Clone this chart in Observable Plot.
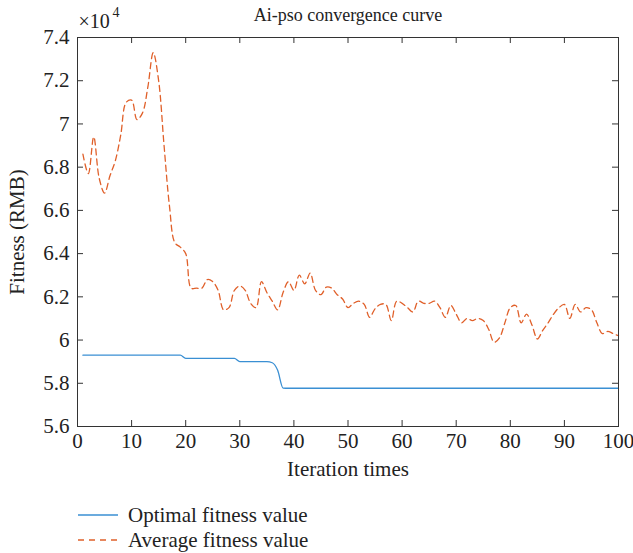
<!DOCTYPE html>
<html>
<head>
<meta charset="utf-8">
<script src="https://cdn.jsdelivr.net/npm/d3@7"></script>
<script src="https://cdn.jsdelivr.net/npm/@observablehq/plot@0.6"></script>
<style>
  body { margin: 0; background: #fff; font-family: "Liberation Serif", "DejaVu Serif", serif; }
  #legend { position: relative; height: 63px; }
  .row { position: absolute; left: 78px; display: flex; align-items: center; font-size: 21px; color: #222; line-height: 24px; }
  .row svg { margin-right: 8px; }
</style>
</head>
<body>
<div id="chart"></div>
<div id="legend"></div>
<script>
const title = "Ai-pso convergence curve";
const xLabel = "Iteration times";
const yLabel = "Fitness (RMB)";
const seriesNames = ["Optimal fitness value", "Average fitness value"];
const xTicks = [0, 10, 20, 30, 40, 50, 60, 70, 80, 90, 100];
const yTicks = [5.6, 5.8, 6.0, 6.2, 6.4, 6.6, 6.8, 7.0, 7.2, 7.4];
const iterations = d3.range(1, 101);
// values in units of 10^4 RMB
const averageFitness = [
  6.86, 6.77, 6.94, 6.75, 6.68, 6.76, 6.83, 6.95, 7.10, 7.11,
  7.02, 7.05, 7.17, 7.33, 7.20, 6.90, 6.62, 6.45, 6.43, 6.40,
  6.24, 6.24, 6.24, 6.28, 6.27, 6.23, 6.14, 6.15, 6.23, 6.25,
  6.23, 6.17, 6.15, 6.27, 6.22, 6.18, 6.14, 6.22, 6.27, 6.23,
  6.30, 6.26, 6.31, 6.23, 6.21, 6.245, 6.24, 6.21, 6.19, 6.15,
  6.17, 6.18, 6.165, 6.105, 6.145, 6.165, 6.165, 6.09, 6.18, 6.17,
  6.15, 6.13, 6.18, 6.17, 6.17, 6.18, 6.15, 6.105, 6.16, 6.12,
  6.08, 6.10, 6.09, 6.10, 6.09, 6.05, 5.99, 6.01, 6.08, 6.15,
  6.16, 6.08, 6.12, 6.07, 6.005, 6.045, 6.08, 6.12, 6.15, 6.165,
  6.10, 6.165, 6.13, 6.15, 6.14, 6.08, 6.03, 6.04, 6.03, 6.02
];
const optimalFitness = [
  5.93, 5.93, 5.93, 5.93, 5.93, 5.93, 5.93, 5.93, 5.93, 5.93,
  5.93, 5.93, 5.93, 5.93, 5.93, 5.93, 5.93, 5.93, 5.93, 5.915,
  5.915, 5.915, 5.915, 5.915, 5.915, 5.915, 5.915, 5.915, 5.915, 5.90,
  5.90, 5.90, 5.90, 5.90, 5.90, 5.895, 5.86, 5.778, 5.777, 5.777,
  5.777, 5.777, 5.777, 5.777, 5.777, 5.777, 5.777, 5.777, 5.777, 5.777,
  5.777, 5.777, 5.777, 5.777, 5.777, 5.777, 5.777, 5.777, 5.777, 5.777,
  5.777, 5.777, 5.777, 5.777, 5.777, 5.777, 5.777, 5.777, 5.777, 5.777,
  5.777, 5.777, 5.777, 5.777, 5.777, 5.777, 5.777, 5.777, 5.777, 5.777,
  5.777, 5.777, 5.777, 5.777, 5.777, 5.777, 5.777, 5.777, 5.777, 5.777,
  5.777, 5.777, 5.777, 5.777, 5.777, 5.777, 5.777, 5.777, 5.777, 5.777
];
const colors = ["#3a8fd3", "#e0602a"];

const avgData = iterations.map((it, i) => ({it, v: averageFitness[i]}));
const optData = iterations.map((it, i) => ({it, v: optimalFitness[i]}));

const W = 633, H = 490;
const mL = 77, mR = 15, mT = 37, mB = 64;
const innerW = W - mL - mR, innerH = H - mT - mB;
const tickLen = 6;
const ink = "#333";

const chart = Plot.plot({
  width: W, height: H,
  marginLeft: mL, marginRight: mR, marginTop: mT, marginBottom: mB,
  style: {fontFamily: "Liberation Serif, DejaVu Serif, serif", fontSize: "21px", color: "#222", background: "#fff", overflow: "visible"},
  x: {domain: [0, 100]},
  y: {domain: [5.6, 7.4]},
  marks: [
    Plot.axisX(xTicks, {tickSize: 0, tickPadding: 7, label: xLabel, labelAnchor: "center", labelOffset: 49, labelArrow: "none", fontSize: 21}),
    Plot.axisY(yTicks, {tickSize: 0, tickPadding: 8, label: yLabel, labelAnchor: "center", labelOffset: 68, labelArrow: "none", tickFormat: d => d3.format(".1~f")(d), fontSize: 21}),
    Plot.ruleX(xTicks.slice(1, -1), {x: d => d, insetTop: innerH - tickLen, stroke: ink}),
    Plot.ruleX(xTicks.slice(1, -1), {x: d => d, insetBottom: innerH - tickLen, stroke: ink}),
    Plot.ruleY(yTicks.slice(1, -1), {y: d => d, insetRight: innerW - tickLen, stroke: ink}),
    Plot.ruleY(yTicks.slice(1, -1), {y: d => d, insetLeft: innerW - tickLen, stroke: ink}),
    Plot.line(optData, {x: "it", y: "v", stroke: colors[0], strokeWidth: 1.3, curve: "monotone-x"}),
    Plot.line(avgData, {x: "it", y: "v", stroke: colors[1], strokeWidth: 1.3, strokeDasharray: "6,4", curve: "catmull-rom"}),
    Plot.frame({stroke: ink, strokeWidth: 1}),
    Plot.text([title], {text: d => d, frameAnchor: "top", lineAnchor: "middle", dy: -22, fontSize: 18, fill: "#222"}),
    Plot.text(["×10"], {text: d => d, frameAnchor: "top-left", textAnchor: "start", lineAnchor: "middle", dy: -16, dx: 1, fontSize: 20, fill: "#222"}),
    Plot.text(["4"], {text: d => d, frameAnchor: "top-left", textAnchor: "start", lineAnchor: "middle", dy: -25, dx: 35, fontSize: 14, fill: "#222"})
  ]
});
document.getElementById("chart").appendChild(chart);

const legend = document.getElementById("legend");
seriesNames.forEach((name, i) => {
  const row = document.createElement("div");
  row.className = "row";
  row.style.top = (i === 0 ? 13 : 38) + "px";
  row.innerHTML = `<svg width="42" height="10"><line x1="0" y1="5" x2="40" y2="5" stroke="${colors[i]}" stroke-width="1.4" ${i === 1 ? 'stroke-dasharray="6,5"' : ''}/></svg><span>${name}</span>`;
  legend.appendChild(row);
});
</script>
</body>
</html>
